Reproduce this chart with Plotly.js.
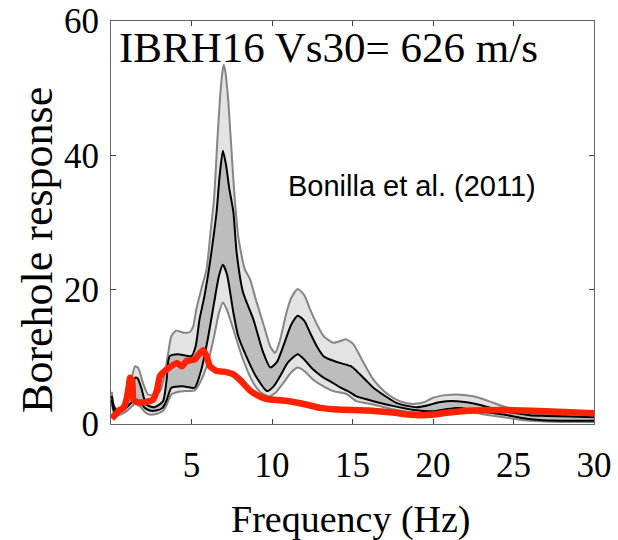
<!DOCTYPE html>
<html>
<head>
<meta charset="utf-8">
<script src="https://cdn.plot.ly/plotly-3.0.1.min.js"></script>
<style>html,body{margin:0;padding:0;background:#fff;}</style>
</head>
<body>
<div id="chart" style="width:618px;height:540px;"></div>
<script>
// Upper bound of outer (light) band
const ugF = [0.05,0.15,0.3,0.6,0.9,1.2,1.5,1.7,2.0,2.3,2.7,3.05,3.3,3.55,3.75,4.05,4.5,4.9,5.1,5.3,5.6,5.94,6.2,6.4,6.6,6.77,6.9,7.0,7.1,7.27,7.45,7.64,7.9,8.3,8.63,9.0,9.5,9.9,10.2,10.5,10.9,11.2,11.6,12.0,12.36,12.8,13.2,13.8,14.3,14.6,15.05,15.6,16.3,17.0,17.75,18.4,18.9,19.5,20.0,20.8,21.5,22.3,23.0,23.7,24.4,25.2,26.0,27.0,28.5,30.0];
const ugV = [4.8,3.0,2.3,2.4,3.5,6.0,8.6,8.3,6.0,4.4,4.3,4.9,7.0,10.5,13.1,13.9,13.6,13.7,14.5,17.1,20.0,23.1,29.0,33.5,42.0,48.5,52.0,53.5,52.5,48.5,42.0,35.0,28.0,23.1,21.6,18.5,14.6,11.5,10.6,12.5,16.6,18.8,20.1,19.2,17.1,14.8,13.1,12.1,12.4,12.6,11.9,9.5,6.6,4.8,3.6,3.1,3.0,3.3,3.9,4.3,4.4,4.2,3.8,3.2,2.6,2.0,1.6,1.4,1.4,1.4];
// Upper bound of inner (dark) band
const ubF = [0.05,0.15,0.3,0.6,0.9,1.2,1.5,1.65,1.88,2.2,2.7,3.23,3.45,3.64,4.16,4.6,5.0,5.25,5.5,5.8,6.15,6.4,6.56,6.75,6.95,7.15,7.35,7.6,7.8,8.2,8.84,9.46,9.9,10.3,10.7,11.2,11.6,12.0,12.36,12.8,13.2,13.6,14.2,14.9,15.25,15.8,16.3,17.0,17.75,18.4,19.0,19.7,20.3,20.85,21.5,22.2,23.0,23.7,24.4,25.2,26.0,27.0,28.5,30.0];
const ubV = [4.2,2.8,2.1,2.0,2.8,4.8,6.9,6.8,5.4,2.9,2.5,3.4,6.5,10.1,10.4,10.2,10.1,11.5,15.6,19.0,24.1,28.5,31.6,37.0,40.7,38.5,35.0,31.6,25.6,19.6,15.6,10.6,8.4,9.2,11.6,14.8,16.1,15.4,13.6,11.5,10.1,9.6,9.1,8.6,7.9,6.6,5.4,4.2,3.1,2.7,2.5,2.8,3.2,3.4,3.4,3.2,2.8,2.3,1.9,1.6,1.3,1.2,1.1,1.0];
// Lower bound of inner (dark) band
const lbF = [0.05,0.15,0.3,0.6,0.9,1.2,1.5,1.8,2.1,2.4,2.8,3.2,3.45,3.75,4.2,4.57,5.2,5.6,6.0,6.4,6.7,6.95,7.2,7.6,7.9,8.4,9.0,9.7,10.1,10.5,11.0,11.6,12.0,12.56,13.2,13.8,14.2,14.8,15.25,16.3,17.5,18.8,20.0,20.8,21.5,22.3,23.0,24.4,25.5,26.6,28.0,30.0];
const lbV = [3.6,2.2,1.6,1.8,2.3,3.0,3.6,3.2,2.4,2.0,2.0,2.4,3.5,5.4,5.6,5.6,5.4,8.0,12.5,18.0,22.0,23.7,22.3,16.6,13.1,10.1,7.1,4.9,5.6,7.1,9.2,10.4,9.6,8.1,6.9,6.1,5.5,4.8,4.1,3.4,2.7,2.1,1.9,2.2,2.4,2.2,1.9,1.4,0.9,0.6,0.5,0.5];
// Lower bound of outer (light) band
const lgF = [0.05,0.15,0.3,0.6,0.9,1.2,1.5,1.8,2.1,2.4,2.8,3.2,3.45,3.75,4.2,4.6,5.2,5.6,6.0,6.4,6.7,6.95,7.2,7.6,8.2,8.84,9.3,9.8,10.2,10.7,11.2,11.6,12.0,12.56,13.2,13.8,14.6,15.25,16.3,17.5,18.8,20.0,20.8,21.5,22.3,23.0,24.4,25.5,26.6,28.0,30.0];
const lgV = [3.0,1.8,1.2,1.4,1.8,2.4,3.0,2.6,1.8,1.4,1.5,1.9,2.8,4.4,4.8,4.9,5.0,6.5,9.0,13.0,16.5,18.1,17.0,14.1,9.6,6.1,4.7,4.1,4.6,6.1,7.7,8.4,7.9,6.6,5.6,4.9,4.5,3.4,2.9,2.2,1.7,1.5,1.7,1.9,1.8,1.5,1.0,0.6,0.4,0.3,0.3];
// Bonilla et al. (2011) response (red)
const rdF = [0.05,0.23,0.5,0.77,0.95,1.1,1.18,1.26,1.32,1.4,1.6,2.0,2.6,2.85,3.04,3.45,4.1,4.4,4.7,5.2,5.5,5.73,5.95,6.15,6.56,7.0,7.6,8.0,8.63,9.25,9.7,10.7,11.5,12.1,13.0,13.8,14.8,16.0,17.5,18.5,19.3,20.0,21.0,22.5,24.6,27.0,30.0];
const rdV = [0.8,1.3,2.0,2.4,3.5,5.5,6.9,4.5,6.5,3.6,3.3,3.2,3.6,5.0,7.1,8.1,9.1,8.6,9.4,9.6,10.5,11.0,10.0,8.6,7.9,7.8,7.4,6.6,5.0,4.1,3.7,3.5,3.2,2.9,2.4,2.2,2.1,2.0,1.7,1.4,1.3,1.4,1.7,2.0,2.1,1.9,1.6];

const xTicks = [5,10,15,20,25,30];
const yTicks = [0,20,40,60];

const rev = a => a.slice().reverse();
const serif = 'Liberation Serif, Times New Roman, serif';

const traces = [
  {x: ugF.concat(rev(lgF)), y: ugV.concat(rev(lgV)), type:'scatter', mode:'lines', fill:'toself',
   fillcolor:'#e3e3e3', line:{width:0, color:'rgba(0,0,0,0)', shape:'spline', smoothing:0.6}, hoverinfo:'skip'},
  {x: ubF.concat(rev(lbF)), y: ubV.concat(rev(lbV)), type:'scatter', mode:'lines', fill:'toself',
   fillcolor:'#bdbdbd', line:{width:0, color:'rgba(0,0,0,0)', shape:'spline', smoothing:0.6}, hoverinfo:'skip'},
  {x: ugF, y: ugV, type:'scatter', mode:'lines', line:{color:'#858585', width:2, shape:'spline', smoothing:0.6}},
  {x: lgF, y: lgV, type:'scatter', mode:'lines', line:{color:'#858585', width:2, shape:'spline', smoothing:0.6}},
  {x: ubF, y: ubV, type:'scatter', mode:'lines', line:{color:'#000000', width:2, shape:'spline', smoothing:0.6}},
  {x: lbF, y: lbV, type:'scatter', mode:'lines', line:{color:'#000000', width:2, shape:'spline', smoothing:0.6}},
  {x: rdF, y: rdV, type:'scatter', mode:'lines', line:{color:'#ff2200', width:6.5, shape:'spline', smoothing:0.4}}
];

const axisCommon = {
  ticks:'inside', ticklen:5, tickwidth:1, tickcolor:'#444',
  showline:true, linecolor:'#666', linewidth:1, mirror:'ticks',
  showgrid:false, zeroline:false,
  tickfont:{family:serif, size:35, color:'#000'}
};

const layout = {
  width:618, height:540,
  margin:{l:111, r:24, t:21, b:116, pad:0},
  paper_bgcolor:'#ffffff', plot_bgcolor:'#ffffff',
  showlegend:false,
  xaxis: Object.assign({}, axisCommon, {range:[0,30], tickvals:xTicks, ticktext:xTicks.map(String), ticklabelstandoff:10}),
  yaxis: Object.assign({}, axisCommon, {range:[0,60], tickvals:yTicks, ticktext:yTicks.map(String), ticklabelstandoff:4}),
  annotations:[
    {text:'IBRH16 Vs30= 626 m/s', xref:'paper', yref:'paper', x:0.0125, y:0.935, xanchor:'left', yanchor:'middle',
     showarrow:false, font:{family:serif, size:43, color:'#000'}},
    {text:'Bonilla et al. (2011)', xref:'paper', yref:'paper', x:0.624, y:0.5906, xanchor:'center', yanchor:'middle',
     showarrow:false, font:{family:'Liberation Sans, Arial, sans-serif', size:29, color:'#000'}},
    {text:'Frequency (Hz)', xref:'paper', yref:'paper', x:0.497, y:-0.238, xanchor:'center', yanchor:'middle',
     showarrow:false, font:{family:serif, size:38, color:'#000'}},
    {text:'Borehole response', xref:'paper', yref:'paper', x:-0.151, y:0.432, xanchor:'center', yanchor:'middle',
     textangle:-90, showarrow:false, font:{family:serif, size:44, color:'#000'}}
  ]
};

Plotly.newPlot('chart', traces, layout, {displayModeBar:false, staticPlot:true});
</script>
</body>
</html>
